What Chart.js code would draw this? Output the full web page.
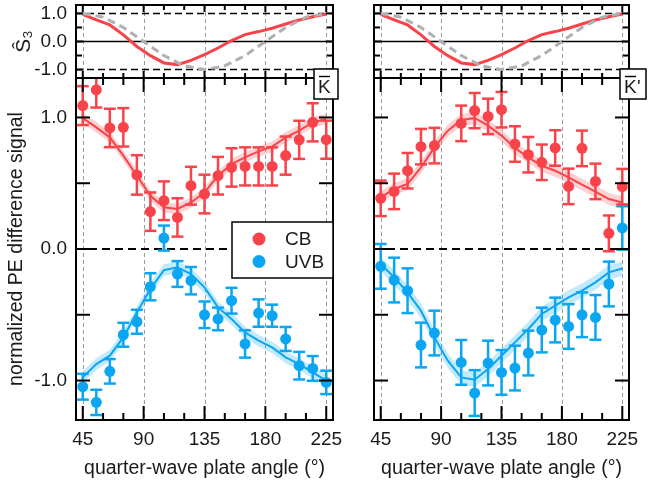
<!DOCTYPE html>
<html>
<head>
<meta charset="utf-8">
<script src="https://cdn.jsdelivr.net/npm/chart.js@4.4.0/dist/chart.umd.min.js"></script>
<style>
  body { margin: 0; background: #fff; }
  #wrap { position: relative; width: 657px; height: 480px; }
  canvas { position: absolute; left: 0; top: 0; }
</style>
</head>
<body>
<div id="wrap">
  <canvas id="topK" width="657" height="480"></canvas>
  <canvas id="topKp" width="657" height="480"></canvas>
  <canvas id="mainK" width="657" height="480"></canvas>
  <canvas id="mainKp" width="657" height="480"></canvas>
</div>
<script>
// quarter-wave plate angles of the measurements (deg)
const angles = [45, 55, 65, 75, 85, 95, 105, 115, 125, 135, 145, 155, 165, 175, 185, 195, 205, 215, 225];
const xTickLabels = [45, 90, 135, 180, 225];
const yTickLabels = [-1, 0, 1];

// S3 of the light: measured (red) and ideal (gray dashed)
const s3Measured = [0.967, 0.767, 0.59, 0.237, -0.177, -0.505, -0.763, -0.823, -0.671, -0.47, -0.233, 0.035, 0.247, 0.353, 0.473, 0.625, 0.767, 0.883, 0.979];
const s3IdealAngles = [45, 60, 75, 90, 105, 120, 135, 150, 165, 180, 195, 210, 225];
const s3Ideal = [1.0, 0.87, 0.5, 0.0, -0.5, -0.87, -1.0, -0.87, -0.5, 0.0, 0.5, 0.87, 1.0];

// K bar valley
const cbK = [1.09, 1.21, 0.92, 0.925, 0.563, 0.284, 0.367, 0.24, 0.481, 0.418, 0.557, 0.62, 0.628, 0.628, 0.628, 0.71, 0.83, 0.963, 0.831];
const cbKErr = [0.148, 0.135, 0.146, 0.146, 0.15, 0.146, 0.147, 0.146, 0.144, 0.147, 0.143, 0.146, 0.145, 0.145, 0.145, 0.145, 0.145, 0.145, 0.145];
const cbKFit = [0.996, 0.925, 0.849, 0.71, 0.557, 0.405, 0.317, 0.304, 0.354, 0.43, 0.557, 0.646, 0.697, 0.742, 0.778, 0.849, 0.9, 0.963, 0.989];
const cbKBand = 0.04;
const uvbK = [-1.047, -1.166, -0.93, -0.652, -0.553, -0.287, 0.083, -0.19, -0.241, -0.5, -0.532, -0.393, -0.722, -0.487, -0.507, -0.684, -0.887, -0.908, -1.014];
const uvbKErr = [0.098, 0.096, 0.093, 0.091, 0.091, 0.103, 0.095, 0.098, 0.104, 0.101, 0.086, 0.098, 0.104, 0.104, 0.084, 0.091, 0.105, 0.094, 0.089];
const uvbKFit = [-0.976, -0.875, -0.811, -0.672, -0.482, -0.304, -0.16, -0.14, -0.19, -0.292, -0.444, -0.532, -0.634, -0.697, -0.748, -0.824, -0.875, -0.938, -1.0];
const uvbKBand = 0.045;

// K' bar valley (no point at 95 deg)
const cbKp = [0.385, 0.438, 0.595, 0.778, 0.786, null, 0.955, 1.052, 1.008, 1.059, 0.798, 0.717, 0.659, 0.768, 0.476, 0.765, 0.514, 0.119, 0.474];
const cbKpErr = [0.135, 0.135, 0.135, 0.135, 0.135, 0.135, 0.135, 0.134, 0.135, 0.135, 0.135, 0.135, 0.135, 0.135, 0.135, 0.135, 0.135, 0.136, 0.135];
const cbKpFit = [0.392, 0.456, 0.494, 0.62, 0.773, 0.9, 0.981, 0.996, 0.938, 0.862, 0.768, 0.697, 0.633, 0.595, 0.545, 0.489, 0.436, 0.38, 0.354];
const cbKpBand = 0.045;
const uvbKp = [-0.132, -0.236, -0.317, -0.73, -0.639, null, -0.862, -1.095, -0.867, -0.938, -0.905, -0.791, -0.616, -0.54, -0.589, -0.5, -0.52, -0.266, 0.16];
const uvbKpErr = [0.17, 0.17, 0.17, 0.17, 0.17, 0.17, 0.17, 0.174, 0.17, 0.17, 0.17, 0.17, 0.17, 0.17, 0.17, 0.17, 0.17, 0.17, 0.165];
const uvbKpFit = [-0.114, -0.216, -0.33, -0.469, -0.672, -0.849, -0.976, -0.994, -0.913, -0.811, -0.71, -0.608, -0.494, -0.431, -0.368, -0.317, -0.254, -0.178, -0.148];
const uvbKpBand = 0.055;

const RED = "#f9434a";
const RED_BAND = "rgba(249,67,74,0.25)";
const BLUE = "#0aa6f2";
const BLUE_BAND = "rgba(10,166,242,0.25)";
const FONT = "'Liberation Sans', Arial, 'DejaVu Sans', sans-serif";

Chart.defaults.font.family = FONT;
Chart.defaults.color = "#1a1a1a";

function pts(xs, ys) {
  return xs.map((a, i) => ({ x: a, y: ys[i] }));
}

function line(ctx, x1, y1, x2, y2) {
  ctx.beginPath();
  ctx.moveTo(x1, y1);
  ctx.lineTo(x2, y2);
  ctx.stroke();
}

// grid, reference lines, error bars, frame, ticks, legend and panel label
const decor = {
  id: "decor",
  beforeDatasetsDraw(chart, args, opts) {
    const { ctx, chartArea: a, scales: { x, y } } = chart;
    ctx.save();
    ctx.strokeStyle = "#9a9a9a";
    ctx.lineWidth = 1;
    ctx.setLineDash([4, 3]);
    xTickLabels.forEach(v => {
      const px = Math.round(x.getPixelForValue(v)) + 0.5;
      line(ctx, px, a.top, px, a.bottom);
    });
    ctx.strokeStyle = "#000";
    opts.refLines.forEach(r => {
      ctx.lineWidth = r.width;
      ctx.setLineDash(r.dash);
      const py = y.getPixelForValue(r.y);
      line(ctx, a.left, py, a.right, py);
    });
    ctx.restore();
  },
  beforeDatasetDraw(chart, args) {
    const ds = chart.data.datasets[args.index];
    if (!ds.errors) return;
    const { ctx, chartArea: a, scales: { x, y } } = chart;
    ctx.save();
    ctx.beginPath();
    ctx.rect(a.left, a.top, a.right - a.left, a.bottom - a.top);
    ctx.clip();
    ctx.strokeStyle = ds.backgroundColor;
    ctx.lineWidth = 2.5;
    ds.data.forEach((p, i) => {
      if (p.y === null) return;
      const px = x.getPixelForValue(p.x);
      const top = y.getPixelForValue(p.y + ds.errors[i]);
      const bot = y.getPixelForValue(p.y - ds.errors[i]);
      line(ctx, px, top, px, bot);
      line(ctx, px - 6, top, px + 6, top);
      line(ctx, px - 6, bot, px + 6, bot);
    });
    ctx.restore();
  },
  afterDraw(chart, args, opts) {
    const { ctx, chartArea: a, scales: { x, y } } = chart;
    ctx.save();
    ctx.strokeStyle = "#000";
    ctx.lineWidth = 2;
    ctx.setLineDash([]);
    ctx.strokeRect(a.left, a.top, a.right - a.left, a.bottom - a.top);
    // x ticks every 15 deg, long ones every 45 deg
    for (let v = 45; v <= 225; v += 15) {
      const px = x.getPixelForValue(v);
      const len = v % 45 === 0 ? opts.xMajor : opts.xMinor;
      line(ctx, px, a.bottom, px, a.bottom - len);
      line(ctx, px, a.top, px, a.top + len);
    }
    // y ticks every 0.5
    for (let v = -1; v <= 1; v += 0.5) {
      const py = y.getPixelForValue(v);
      const len = v % 1 === 0 ? opts.yMajor : opts.yMinor;
      line(ctx, a.left, py, a.left + len, py);
      line(ctx, a.right, py, a.right - len, py);
    }
    if (opts.legend) {
      const L = opts.legend;
      ctx.fillStyle = "#fff";
      ctx.fillRect(L.x, L.y, L.w, L.h);
      ctx.lineWidth = 1.5;
      ctx.strokeRect(L.x, L.y, L.w, L.h);
      ctx.font = "19px " + FONT;
      ctx.textBaseline = "middle";
      L.items.forEach((it, i) => {
        const cy = L.y + 17 + i * 22.5;
        ctx.fillStyle = it.color;
        ctx.beginPath();
        ctx.arc(L.x + 27, cy, 6.5, 0, Math.PI * 2);
        ctx.fill();
        ctx.fillStyle = "#1a1a1a";
        ctx.fillText(it.text, L.x + 53, cy + 1);
      });
    }
    if (opts.label) {
      const B = opts.label;
      ctx.fillStyle = "#fff";
      ctx.fillRect(B.x, B.y, B.w, B.h);
      ctx.lineWidth = 1.5;
      ctx.strokeRect(B.x, B.y, B.w, B.h);
      ctx.fillStyle = "#1a1a1a";
      ctx.font = "19px " + FONT;
      ctx.textBaseline = "alphabetic";
      const kx = B.x + 4;
      const base = B.y + B.h - 6;
      ctx.fillText("K", kx, base);
      ctx.lineWidth = 1.4;
      line(ctx, kx + 1, base - 16.5, kx + 12, base - 16.5);
      if (B.prime) ctx.fillText("'", kx + 13, base);
    }
    ctx.restore();
  }
};

// drop the label overflow padding, the panels are placed by layout padding
function noAxisPadding(s) {
  s.paddingTop = 0;
  s.paddingBottom = 0;
  s.paddingLeft = 0;
  s.paddingRight = 0;
}

function makePanel(id, cfg) {
  const xAxis = {
    type: "linear",
    min: 40,
    max: 230,
    display: cfg.showX,
    afterFit: s => { s.height = cfg.showX ? 60 : 0; noAxisPadding(s); },
    afterBuildTicks: s => { s.ticks = xTickLabels.map(v => ({ value: v })); },
    grid: { display: false, drawTicks: false },
    border: { display: false },
    ticks: { font: { size: 19 }, padding: 8, maxRotation: 0, autoSkip: false },
    title: { display: true, text: "quarter-wave plate angle (°)", font: { size: 19.5 }, padding: { top: 0, bottom: 0 } }
  };
  const yAxis = {
    type: "linear",
    min: -1.3,
    max: 1.3,
    display: cfg.showY,
    afterFit: s => { s.width = cfg.showY ? 76 : 0; noAxisPadding(s); },
    afterBuildTicks: s => { s.ticks = yTickLabels.map(v => ({ value: v })); },
    grid: { display: false, drawTicks: false },
    border: { display: false },
    ticks: { font: { size: 19 }, padding: 9, callback: v => v.toFixed(1) },
    title: { display: true, text: cfg.yTitle, font: { size: cfg.yTitleSize }, padding: { top: cfg.yTitlePad, bottom: 0 } }
  };
  return new Chart(document.getElementById(id), {
    type: "scatter",
    data: { datasets: cfg.datasets },
    options: {
      responsive: false,
      animation: false,
      devicePixelRatio: 1,
      layout: { padding: cfg.padding },
      plugins: {
        legend: { display: false },
        tooltip: { enabled: false },
        decor: cfg.decor
      },
      scales: { x: xAxis, y: yAxis }
    },
    plugins: [decor]
  });
}

function s3Sets() {
  return [
    { data: pts(s3IdealAngles, s3Ideal), showLine: true, borderColor: "#b0b0b0", borderWidth: 3, borderDash: [8, 5], pointRadius: 0 },
    { data: pts(angles, s3Measured), showLine: true, borderColor: RED, borderWidth: 3, pointRadius: 0 }
  ];
}

function signalSets(fit, band, vals, err, color, bandColor) {
  return [
    { data: pts(angles, fit.map(v => v + band)), showLine: true, fill: "+1", backgroundColor: bandColor, borderWidth: 0, pointRadius: 0 },
    { data: pts(angles, fit.map(v => v - band)), showLine: true, fill: false, borderWidth: 0, pointRadius: 0 },
    { data: pts(angles, fit), showLine: true, borderColor: color, borderWidth: 2, pointRadius: 0 },
    { data: pts(angles, vals), errors: err, backgroundColor: color, borderWidth: 0, pointRadius: 5.5 }
  ];
}

const topRefs = [
  { y: 1, dash: [7, 4], width: 1.5 },
  { y: 0, dash: [], width: 1.5 },
  { y: -1, dash: [7, 4], width: 1.5 }
];
const mainRefs = [{ y: 0, dash: [8, 5], width: 2 }];

makePanel("topK", {
  showX: false, showY: true, yTitle: "Ŝ₃", yTitleSize: 21, yTitlePad: 12,
  padding: { left: 0, top: 5, right: 324, bottom: 402 },
  datasets: s3Sets(),
  decor: { refLines: topRefs, xMajor: 7, xMinor: 5, yMajor: 7, yMinor: 6 }
});

makePanel("topKp", {
  showX: false, showY: false, yTitle: "", yTitleSize: 19, yTitlePad: 0,
  padding: { left: 374, top: 5, right: 28, bottom: 402 },
  datasets: s3Sets(),
  decor: { refLines: topRefs, xMajor: 7, xMinor: 5, yMajor: 7, yMinor: 6 }
});

makePanel("mainK", {
  showX: true, showY: true, yTitle: "normalized PE difference signal", yTitleSize: 19.5, yTitlePad: 5,
  padding: { left: 0, top: 78, right: 324, bottom: 0 },
  datasets: signalSets(cbKFit, cbKBand, cbK, cbKErr, RED, RED_BAND)
    .concat(signalSets(uvbKFit, uvbKBand, uvbK, uvbKErr, BLUE, BLUE_BAND)),
  decor: {
    refLines: mainRefs, xMajor: 14, xMinor: 7, yMajor: 14, yMinor: 14,
    legend: { x: 232, y: 222, w: 101, h: 56, items: [{ text: "CB", color: RED }, { text: "UVB", color: BLUE }] },
    label: { x: 314, y: 69, w: 24, h: 30, prime: false }
  }
});

makePanel("mainKp", {
  showX: true, showY: false, yTitle: "", yTitleSize: 19.5, yTitlePad: 0,
  padding: { left: 374, top: 78, right: 28, bottom: 0 },
  datasets: signalSets(cbKpFit, cbKpBand, cbKp, cbKpErr, RED, RED_BAND)
    .concat(signalSets(uvbKpFit, uvbKpBand, uvbKp, uvbKpErr, BLUE, BLUE_BAND)),
  decor: {
    refLines: mainRefs, xMajor: 14, xMinor: 7, yMajor: 14, yMinor: 14,
    label: { x: 620, y: 69, w: 26, h: 30, prime: true }
  }
});
</script>
</body>
</html>
